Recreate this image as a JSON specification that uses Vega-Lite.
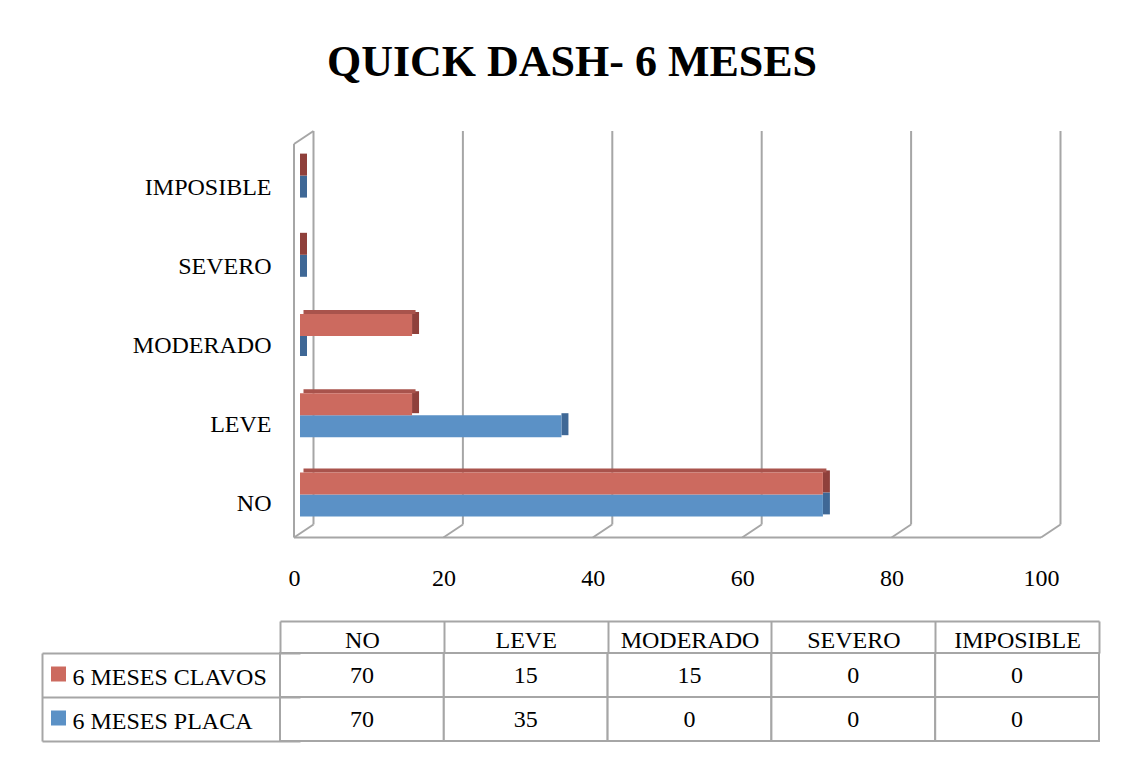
{
  "$schema": "https://vega.github.io/schema/vega-lite/v6.json",
  "padding": {"left": 41, "top": 41, "right": 10, "bottom": 10},
  "background": "white",
  "title": {"text": "QUICK DASH- 6 MESES", "font": "Liberation Serif", "fontSize": 44, "fontWeight": "bold", "color": "black", "anchor": "middle", "offset": 45, "dx": -8},
  "datasets": {
    "main": [
      {"category": "NO", "series": "6 MESES CLAVOS", "value": 70},
      {"category": "NO", "series": "6 MESES PLACA", "value": 70},
      {"category": "LEVE", "series": "6 MESES CLAVOS", "value": 15},
      {"category": "LEVE", "series": "6 MESES PLACA", "value": 35},
      {"category": "MODERADO", "series": "6 MESES CLAVOS", "value": 15},
      {"category": "MODERADO", "series": "6 MESES PLACA", "value": 0},
      {"category": "SEVERO", "series": "6 MESES CLAVOS", "value": 0},
      {"category": "SEVERO", "series": "6 MESES PLACA", "value": 0},
      {"category": "IMPOSIBLE", "series": "6 MESES CLAVOS", "value": 0},
      {"category": "IMPOSIBLE", "series": "6 MESES PLACA", "value": 0}
    ],
    "grid": [{"v": 0}, {"v": 20}, {"v": 40}, {"v": 60}, {"v": 80}, {"v": 100}],
    "one": [{"k": 1}]
  },
  "spacing": 30,
  "vconcat": [
    {
      "width": 747,
      "height": 396,
      "resolve": {"scale": {"y": "independent"}, "axis": {"y": "independent", "x": "independent"}},
      "layer": [
        {
          "data": {"name": "grid"},
          "encoding": {
            "x": {"field": "v", "type": "quantitative", "scale": {"domain": [0, 100], "nice": false, "zero": true}, "axis": null},
            "y": {"datum": 0, "type": "quantitative", "scale": {"domain": [0, 1], "nice": false}, "axis": null}
          },
          "layer": [
            {
              "mark": {"type": "rule", "color": "#A6A6A6", "strokeWidth": 2, "xOffset": 13.5, "yOffset": -9.5, "y2Offset": -7},
              "encoding": {"y2": {"datum": 1}}
            },
            {
              "mark": {"type": "rule", "color": "#A6A6A6", "strokeWidth": 2, "xOffset": 13.5, "x2Offset": -6, "yOffset": -9.5, "y2Offset": 3.5},
              "encoding": {"x2": {"field": "v"}, "y2": {"datum": 0}}
            }
          ]
        },
        {
          "data": {"name": "one"},
          "encoding": {
            "x": {"datum": 0, "type": "quantitative", "axis": null},
            "y": {"datum": 0, "type": "quantitative", "axis": null}
          },
          "layer": [
            {
              "mark": {"type": "rule", "color": "#A6A6A6", "strokeWidth": 2, "xOffset": -6, "x2Offset": -6, "yOffset": 3.5},
              "encoding": {"x2": {"datum": 100}}
            },
            {
              "mark": {"type": "rule", "color": "#A6A6A6", "strokeWidth": 2, "xOffset": -6, "yOffset": 3.5, "y2Offset": 6},
              "encoding": {"y2": {"datum": 1}}
            },
            {
              "mark": {"type": "rule", "color": "#A6A6A6", "strokeWidth": 2, "xOffset": -6, "x2Offset": 13.5, "yOffset": 6, "y2Offset": -7},
              "encoding": {"y": {"datum": 1, "type": "quantitative", "axis": null}, "x2": {"datum": 0}, "y2": {"datum": 1}}
            }
          ]
        },
        {
          "data": {"name": "main"},
          "encoding": {
            "y": {
              "field": "category", "type": "nominal",
              "sort": ["IMPOSIBLE", "SEVERO", "MODERADO", "LEVE", "NO"],
              "scale": {"domain": ["IMPOSIBLE", "SEVERO", "MODERADO", "LEVE", "NO"], "paddingInner": 0.445, "paddingOuter": 0.2225},
              "axis": {"title": null, "domain": false, "ticks": false, "tickSize": 0, "labelFont": "Liberation Serif", "labelFontSize": 24, "labelColor": "black", "labelPadding": 29, "labelOffset": 10, "minExtent": 258, "maxExtent": 258}
            },
            "x": {
              "field": "value", "type": "quantitative",
              "axis": {"title": null, "values": [0, 20, 40, 60, 80, 100], "grid": false, "domain": false, "ticks": false, "tickSize": 0, "labelFlush": false, "labelFont": "Liberation Serif", "labelFontSize": 24, "labelColor": "black", "labelOffset": -6, "labelPadding": 32}
            }
          },
          "layer": [
            {
              "transform": [{"filter": "datum.series === '6 MESES PLACA'"}],
              "mark": {"type": "bar", "color": "#3F6896", "height": {"band": 0.5}, "x2Offset": 7, "yOffset": 9},
              "encoding": {"x2": {"field": "value"}}
            },
            {
              "transform": [{"filter": "datum.series === '6 MESES PLACA'"}],
              "mark": {"type": "bar", "color": "#5B91C6", "height": {"band": 0.5}, "yOffset": 11}
            },
            {
              "transform": [{"filter": "datum.series === '6 MESES CLAVOS'"}],
              "mark": {"type": "bar", "color": "#8F403B", "height": {"band": 0.5}, "x2Offset": 7, "yOffset": -13},
              "encoding": {"x2": {"field": "value"}}
            },
            {
              "transform": [{"filter": "datum.series === '6 MESES CLAVOS'"}],
              "mark": {"type": "bar", "color": "#A9534C", "height": 4, "xOffset": 3.5, "x2Offset": 3.5, "yOffset": -24}
            },
            {
              "transform": [{"filter": "datum.series === '6 MESES CLAVOS'"}],
              "mark": {"type": "bar", "color": "#CC6A5F", "height": {"band": 0.5}, "yOffset": -11}
            }
          ]
        }
      ]
    },
    {
      "width": 799,
      "height": 88,
      "data": {"name": "main"},
      "resolve": {"axis": {"x": "independent", "y": "independent"}},
      "layer": [
        {
          "mark": {"type": "rect", "fill": "white", "stroke": "#A6A6A6", "strokeWidth": 2},
          "encoding": {
            "x": {
              "field": "category", "type": "nominal",
              "sort": ["NO", "LEVE", "MODERADO", "SEVERO", "IMPOSIBLE"],
              "scale": {"domain": ["NO", "LEVE", "MODERADO", "SEVERO", "IMPOSIBLE"], "range": [-20, 799], "paddingInner": 0, "paddingOuter": 0},
              "axis": {"orient": "top", "title": null, "domain": false, "tickBand": "extent", "tickSize": 32, "tickColor": "#A6A6A6", "tickWidth": 2, "labelAngle": 0, "labelLimit": 0, "labelFont": "Liberation Serif", "labelFontSize": 24, "labelColor": "black", "labelBaseline": "middle", "labelPadding": -19}
            },
            "y": {
              "field": "series", "type": "nominal",
              "scale": {"domain": ["6 MESES CLAVOS", "6 MESES PLACA"], "paddingInner": 0, "paddingOuter": 0},
              "axis": {"orient": "left", "title": null, "domain": false, "tickBand": "extent", "tickSize": 258, "tickColor": "#A6A6A6", "tickWidth": 2, "labelAlign": "left", "labelLimit": 0, "labelPadding": -30, "labelFont": "Liberation Serif", "labelFontSize": 24, "labelColor": "black", "labelOffset": 2}
            }
          }
        },
        {
          "mark": {"type": "text", "fontSize": 24, "font": "Liberation Serif", "color": "black", "baseline": "middle", "dy": 1},
          "encoding": {
            "x": {"field": "category", "type": "nominal", "axis": {"orient": "top", "offset": 32, "title": null, "labels": false, "ticks": false, "domain": true, "domainColor": "#A6A6A6", "domainWidth": 2}},
            "y": {"field": "series", "type": "nominal", "axis": {"orient": "left", "offset": 258, "title": null, "labels": false, "ticks": false, "domain": true, "domainColor": "#A6A6A6", "domainWidth": 2}},
            "text": {"field": "value"}
          }
        },
        {
          "transform": [{"filter": "datum.category === 'NO'"}],
          "mark": {"type": "square", "size": 225, "filled": true, "opacity": 1, "xOffset": -221.5, "yOffset": -1},
          "encoding": {
            "x": {"field": "category", "type": "nominal", "bandPosition": 0, "axis": null},
            "y": {"field": "series", "type": "nominal", "axis": null},
            "color": {"field": "series", "type": "nominal", "scale": {"domain": ["6 MESES CLAVOS", "6 MESES PLACA"], "range": ["#CC6A5F", "#5B91C6"]}, "legend": null}
          }
        }
      ]
    }
  ],
  "config": {
    "view": {"stroke": null},
    "font": "Liberation Serif",
    "axis": {"labelFont": "Liberation Serif"}
  }
}
